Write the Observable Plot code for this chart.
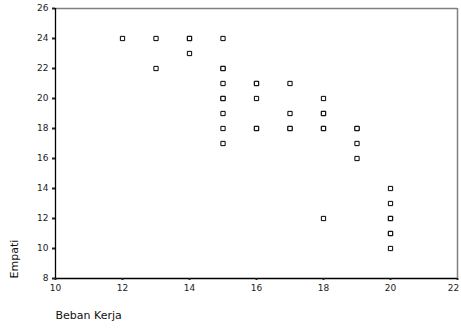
<!DOCTYPE html>
<html>
<head>
<meta charset="utf-8">
<script src="https://cdn.jsdelivr.net/npm/d3@7"></script>
<script src="https://cdn.jsdelivr.net/npm/@observablehq/plot@0.6"></script>
<style>
  html, body { margin: 0; padding: 0; background: #fff; }
</style>
</head>
<body>
<div id="chart"></div>
<script>
// Beban Kerja (x) and Empati (y); repeated pairs are overplotted cases
const bebanKerja = [12, 13, 13, 14, 14, 14, 15, 15, 15, 15, 15, 15, 15, 15, 15,
  16, 16, 16, 16, 16, 17, 17, 17, 17, 18, 18, 18, 18, 18, 18, 19, 19, 19, 19,
  20, 20, 20, 20, 20, 20, 20];
const empati = [24, 24, 22, 24, 24, 23, 24, 22, 22, 21, 20, 20, 19, 18, 17,
  21, 21, 20, 18, 18, 21, 19, 18, 18, 20, 19, 19, 18, 18, 12, 18, 18, 17, 16,
  14, 13, 12, 12, 11, 11, 10];
const xTicks = [10, 12, 14, 16, 18, 20, 22];
const yTicks = [8, 10, 12, 14, 16, 18, 20, 22, 24, 26];
const xTitle = "Beban Kerja";
const yTitle = "Empati";

const data = bebanKerja.map((x, i) => ({x, y: empati[i]}));

const chart = Plot.plot({
  width: 461,
  height: 330,
  marginLeft: 55,
  marginRight: 4,
  marginTop: 8,
  marginBottom: 52,
  style: {fontFamily: "DejaVu Sans", fontSize: "9px", color: "#222", background: "#fff"},
  x: {domain: [10, 22]},
  y: {domain: [8, 26]},
  marks: [
    Plot.ruleY([26], {stroke: "#808080", strokeWidth: 1.5}),
    Plot.ruleX([22], {stroke: "#808080", strokeWidth: 1.5}),
    Plot.ruleX([10], {stroke: "#000", strokeWidth: 1.3}),
    Plot.ruleY([8], {stroke: "#000", strokeWidth: 1.3}),
    Plot.axisY({ticks: yTicks, tickSize: 3, tickPadding: 4, strokeWidth: 2, label: null}),
    Plot.axisX({ticks: xTicks, tickSize: 2, strokeWidth: 2, fill: "none", label: null}),
    Plot.axisX({ticks: xTicks.slice(0, -1), tickSize: 0, tickPadding: 6, label: null}),
    Plot.axisX({ticks: xTicks.slice(-1), tickSize: 0, tickPadding: 6, dx: -4, label: null}),
    Plot.dot(data, {x: "x", y: "y", symbol: "square", r: 2.4, stroke: "#000", fill: "#fff", strokeWidth: 1}),
    Plot.text([yTitle], {frameAnchor: "bottom-left", rotate: -90, textAnchor: "start", dx: -38, fontSize: 11, fill: "#111"}),
    Plot.text([xTitle], {frameAnchor: "bottom-left", textAnchor: "start", dx: 0, dy: 40, fontSize: 11, fill: "#111"})
  ]
});
document.getElementById("chart").appendChild(chart);
</script>
</body>
</html>
